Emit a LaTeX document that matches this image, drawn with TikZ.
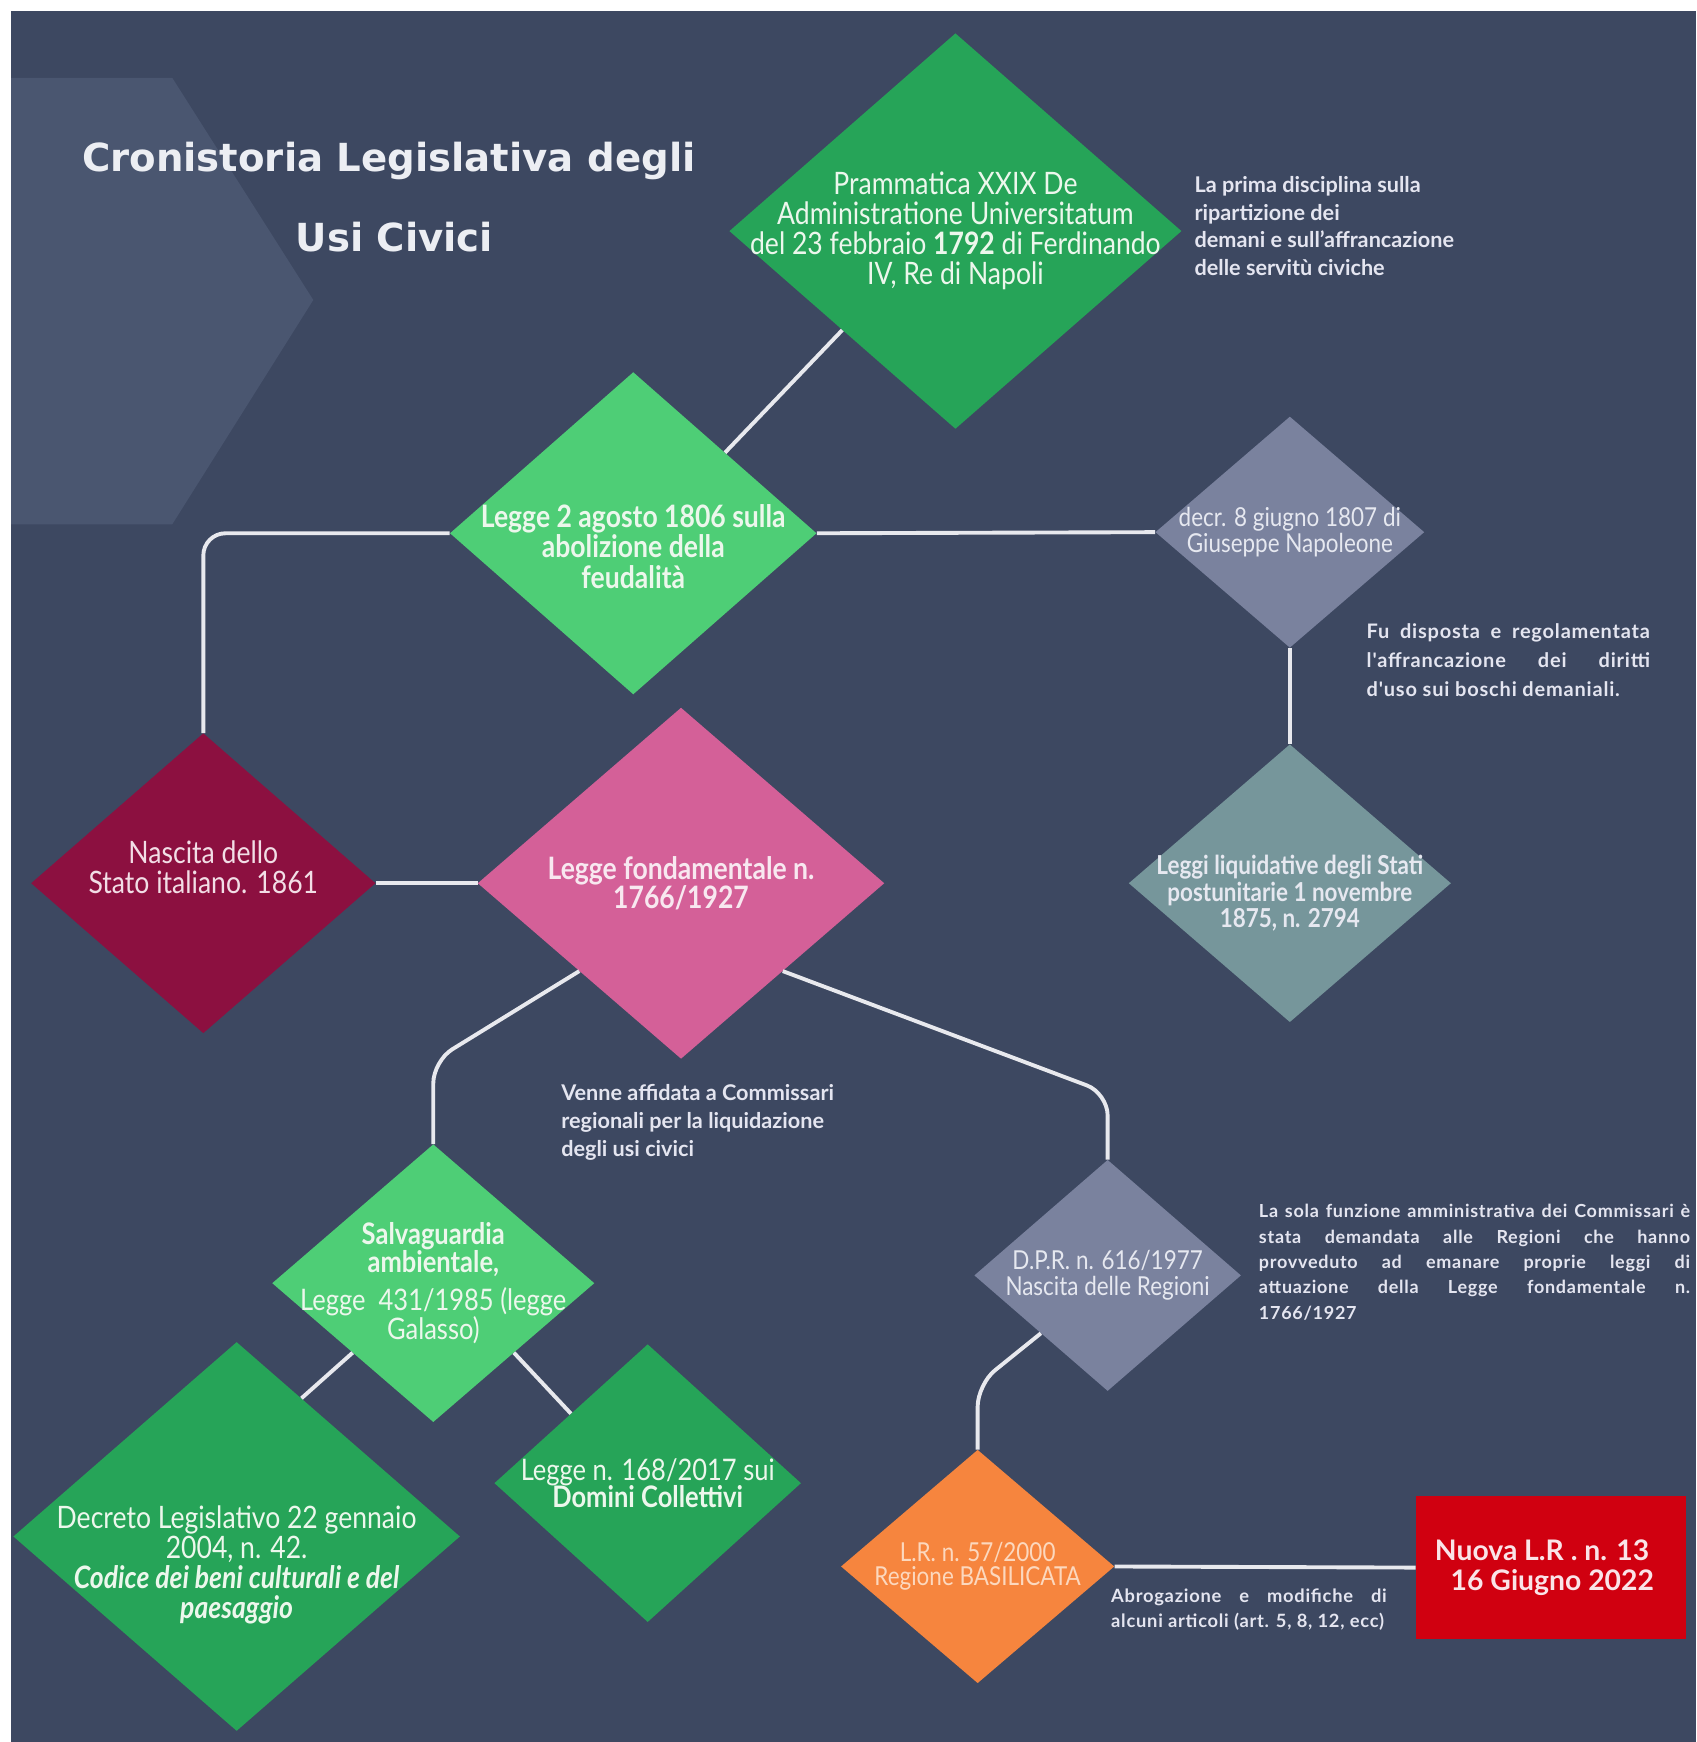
\documentclass[tikz,border=0pt]{standalone}
\usepackage{fontspec}
\setmainfont{Lato}
\newfontfamily\cnd[FakeStretch=0.86]{Lato}
\newfontfamily\notefont[LetterSpace=4]{Lato}
\newfontfamily\titlefont{DejaVu Sans}
\usetikzlibrary{shapes.geometric,calc}
\definecolor{bgc}{RGB}{61,72,97}
\definecolor{chevc}{RGB}{74,86,112}
\definecolor{grc}{RGB}{38,164,88}
\definecolor{grlc}{RGB}{78,206,118}
\definecolor{grayc}{RGB}{122,130,158}
\definecolor{tealc}{RGB}{118,150,155}
\definecolor{maroonc}{RGB}{140,16,64}
\definecolor{pinkc}{RGB}{212,96,152}
\definecolor{orangec}{RGB}{246,133,62}
\definecolor{redc}{RGB}{208,0,16}
\definecolor{linec}{RGB}{232,233,238}
\definecolor{notec}{RGB}{228,229,240}
\definecolor{titlec}{RGB}{236,238,243}
\definecolor{gtxt}{RGB}{236,247,236}
\definecolor{graytxt}{RGB}{230,232,240}
\definecolor{pinktxt}{RGB}{248,232,240}
\definecolor{martxt}{RGB}{242,222,230}
\definecolor{oratxt}{RGB}{252,216,190}
\definecolor{redtxt}{RGB}{250,228,232}
\tikzset{
  dia/.style 2 args={diamond, draw=none, inner sep=0pt, minimum width=#1, minimum height=#2},
  dtext/.style={align=center, inner sep=0pt},
  note/.style={inner sep=0pt, anchor=north west, text=notec, font=\notefont\bfseries},
  conn/.style={draw=linec, line width=3.5pt, rounded corners=20pt}
}
\begin{document}
\begin{tikzpicture}[x=1pt,y=-1pt]
\useasboundingbox (0,0) rectangle (1527,1568);
\fill[white] (0,0) rectangle (1527,1568);
\fill[bgc] (10,10) rectangle (1527,1568);
\fill[chevc] (10,70) -- (155,70) -- (282,270) -- (155,472) -- (10,472) -- cycle;

% title
\node[inner sep=0pt, text=titlec, font=\titlefont\bfseries\fontsize{34.8}{40}\selectfont] (title1) at (350,145) {Cronistoria Legislativa degli};
\node[inner sep=0pt, text=titlec, font=\titlefont\bfseries\fontsize{34.8}{40}\selectfont] (title2) at (355,213) {Usi Civici};

% diamonds
\node[dia={407pt}{356pt}, fill=grc] (pram) at (860,208) {};
\node[dia={330pt}{290pt}, fill=grlc] (l1806) at (570,480) {};
\node[dia={242pt}{208pt}, fill=grayc] (decr) at (1161,479) {};
\node[dia={290pt}{250pt}, fill=tealc] (liq) at (1161,795) {};
\node[dia={310pt}{270pt}, fill=maroonc] (nasc) at (183,795) {};
\node[dia={366pt}{316pt}, fill=pinkc] (lf) at (613,795) {};
\node[dia={290pt}{250pt}, fill=grlc] (salva) at (390,1155) {};
\node[dia={402pt}{350pt}, fill=grc] (decreto) at (213,1383) {};
\node[dia={276pt}{250pt}, fill=grc] (l168) at (583,1335) {};
\node[dia={240pt}{208pt}, fill=grayc] (dpr) at (997,1148) {};
\node[dia={246pt}{210pt}, fill=orangec] (lr) at (880,1410) {};
\node[draw=none, fill=redc, minimum width=243pt, minimum height=128pt, inner sep=0pt] (nuova) at (1396,1411) {};

% connectors
\draw[conn] (pram.south west) -- (l1806.north east);
\draw[conn] (l1806.east) -- (decr.west);
\draw[conn] (decr.south) -- (liq.north);
\draw[conn] (l1806.west) -| (nasc.north);
\draw[conn] (nasc.east) -- (lf.west);
\coordinate (bend1) at (390,955);
\draw[conn] (lf.south west) -- (bend1) -- (salva.north);
\coordinate (bend2) at (997,984);
\draw[conn] (lf.south east) -- (bend2) -- (dpr.north);
\coordinate (bend3) at (880,1246);
\draw[conn] (dpr.south west) -- (bend3) -- (lr.north);
\draw[conn] (salva.south west) -- ($(decreto.north)!0.29!(decreto.east)$);
\draw[conn] (salva.south east) -- (l168.north west);
\draw[conn] (lr.east) -- (nuova.west);

% diamond texts
\node[dtext, text=gtxt, font=\cnd\fontsize{27.8}{27}\selectfont] (pramt) at (pram.center)
  {Prammatica XXIX De\\Administratione Universitatum\\del 23 febbraio \textbf{1792} di Ferdinando\\IV, Re di Napoli};
\node[dtext, text=gtxt, font=\cnd\bfseries\fontsize{27.8}{27.5}\selectfont] (l1806t) at ([yshift=-12pt]l1806.center)
  {Legge 2 agosto 1806 sulla\\abolizione della\\feudalità};
\node[dtext, text=graytxt, font=\cnd\fontsize{23.5}{23}\selectfont] (decrt) at (decr.center)
  {decr. 8 giugno 1807 di\\Giuseppe Napoleone};
\node[dtext, text=graytxt, font=\cnd\bfseries\fontsize{23.5}{24}\selectfont] (liqt) at ([yshift=-9pt]liq.center)
  {Leggi liquidative degli Stati\\postunitarie 1 novembre\\1875, n. 2794};
\node[dtext, text=martxt, font=\cnd\fontsize{27.8}{27}\selectfont] (nasct) at ([yshift=14pt]nasc.center)
  {Nascita dello\\Stato italiano. 1861};
\node[dtext, text=pinktxt, font=\cnd\bfseries\fontsize{27.8}{26}\selectfont] (lft) at (lf.center)
  {Legge fondamentale n.\\1766/1927};
\node[dtext, text=gtxt, font=\cnd\fontsize{26.7}{23}\selectfont] (salvat) at (salva.center)
  {\textbf{Salvaguardia}\\\textbf{ambientale,}\\[8pt]Legge\ \ 431/1985 (legge\\Galasso)};
\node[dtext, text=gtxt, font=\cnd\fontsize{27.8}{27}\selectfont] (decretot) at ([yshift=-26pt]decreto.center)
  {Decreto Legislativo 22 gennaio\\2004, n. 42.\\\textbf{\itshape Codice dei beni culturali e del}\\\textbf{\itshape paesaggio}};
\node[dtext, text=gtxt, font=\cnd\fontsize{26.7}{25}\selectfont] (l168t) at (l168.center)
  {Legge n. 168/2017 sui\\\textbf{Domini Collettivi}};
\node[dtext, text=graytxt, font=\cnd\fontsize{23.5}{23}\selectfont] (dprt) at (dpr.center)
  {D.P.R. n. 616/1977\\Nascita delle Regioni};
\node[dtext, text=oratxt, font=\cnd\fontsize{23.5}{22}\selectfont] (lrt) at (lr.center)
  {L.R. n. 57/2000\\Regione BASILICATA};
\node[dtext, text=redtxt, font=\bfseries\fontsize{25.5}{27}\selectfont] (nuovat) at ([xshift=-8pt]nuova.center)
  {Nuova L.R . n. 13\\\ \ \ 16 Giugno 2022};

% notes
\node[note, font=\bfseries\fontsize{19.5}{24.7}\selectfont, align=left] (n1) at (1075,159)
  {La prima disciplina sulla\\ripartizione dei\\demani e sull'affrancazione\\delle servitù civiche};
\node[note, font=\notefont\bfseries\fontsize{18}{26}\selectfont, text width=255pt, align=justify] (n2) at (1230,561)
  {Fu disposta e regolamentata\linebreak l'affrancazione dei diritti\linebreak d'uso sui boschi demaniali.};
\node[note, font=\bfseries\fontsize{19.5}{25}\selectfont, align=left] (n3) at (505,976)
  {Venne affidata a Commissari\\regionali per la liquidazione\\degli usi civici};
\node[note, font=\notefont\bfseries\fontsize{16.2}{22.75}\selectfont, text width=388pt, align=justify] (n4) at (1133,1084)
  {La sola funzione amministrativa dei Commissari è\linebreak stata demandata alle Regioni che hanno\linebreak provveduto ad emanare proprie leggi di\linebreak attuazione della Legge fondamentale n.\linebreak 1766/1927};
\node[note, font=\notefont\bfseries\fontsize{16.5}{22}\selectfont, text width=248pt, align=justify] (n5) at (1000,1430)
  {Abrogazione e modifiche di\linebreak alcuni articoli (art. 5, 8, 12, ecc)};
\end{tikzpicture}
\end{document}
